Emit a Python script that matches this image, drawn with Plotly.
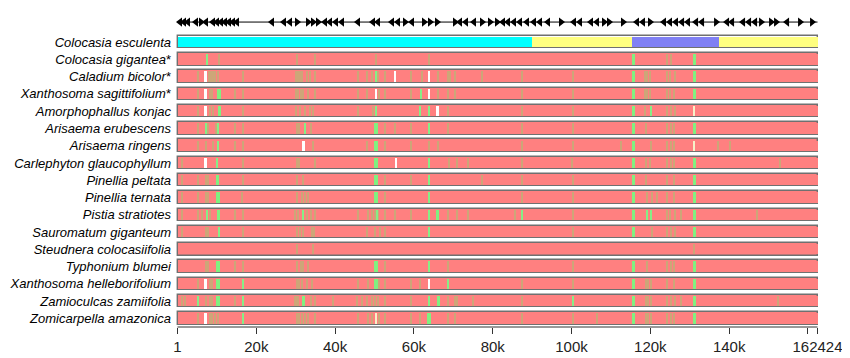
import plotly.graph_objects as go

# ---------------- data ----------------
genome_len = 162424
species = [
    "<i>Colocasia esculenta</i>",
    "<i>Colocasia gigantea</i>*",
    "<i>Caladium bicolor</i>*",
    "<i>Xanthosoma sagittifolium</i>*",
    "<i>Amorphophallus konjac</i>",
    "<i>Arisaema erubescens</i>",
    "<i>Arisaema ringens</i>",
    "<i>Carlephyton glaucophyllum</i>",
    "<i>Pinellia peltata</i>",
    "<i>Pinellia ternata</i>",
    "<i>Pistia stratiotes</i>",
    "<i>Sauromatum giganteum</i>",
    "<i>Steudnera colocasiifolia</i>",
    "<i>Typhonium blumei</i>",
    "<i>Xanthosoma helleborifolium</i>",
    "<i>Zamioculcas zamiifolia</i>",
    "<i>Zomicarpella amazonica</i>",
]

# reference regions (start, end, region)
ref_regions_start = [1, 89900, 115250, 137500]
ref_regions_end = [89900, 115250, 137500, 162424]
ref_regions_kind = ["LSC", "IR", "SSC", "IR"]

# gene annotation track (position bp, strand)
gene_pos = [635, 1650, 2665, 4695, 5964, 7233, 9010, 10025, 11040, 12055, 13070, 14085,
            15100, 23984, 27029, 28552, 30328, 33120, 34390, 35659, 37436, 38705, 40228,
            41750, 45811, 49618, 50887, 54440, 55963, 57740, 59516, 62562, 64085, 65861,
            70430, 71698, 73221, 75252, 77282, 79312, 81089, 82612, 83881, 85404, 86927,
            88703, 90480, 92003, 94033, 97333, 100632, 102155, 104947, 106470, 108247,
            109516, 113069, 116622, 118145, 119921, 123475, 124998, 126521, 128044,
            129566, 131597, 133120, 136673, 139465, 140734, 143526, 145048, 146571,
            148094, 150632, 151901, 154693, 157992, 161038]
gene_strand = ["-", "-", "-", "-", "+", "-", "-", "-", "-", "-", "-", "-",
               "-", "-", "-", "-", "+", "+", "+", "+", "-", "-", "-",
               "-", "-", "-", "-", "-", "-", "+", "-", "+", "+", "+",
               "+", "-", "-", "-", "+", "+", "+", "-", "-", "-", "-",
               "-", "-", "-", "-", "+", "-", "-", "-", "-", "+",
               "+", "+", "-", "-", "+", "-", "-", "-", "-",
               "-", "-", "-", "+", "-", "-", "-", "-", "-",
               "+", "+", "+", "-", "+", "+"]

# divergent regions per compared species: (position bp, kind)
# t = moderately conserved, g = less conserved, G = wide low-conservation, w = gap, c = near gap
diffs = {
    1: [(7400, "g"), (10617, "t"), (30244, "t"), (34897, "t"), (50379, "t"), (63831, "t"),
        (115690, "G"), (124150, "t"), (125165, "t"), (131172, "G")],
    2: [(5118, "t"), (7148, "w"), (8079, "t"), (8502, "t"), (8925, "t"), (9517, "t"), (10194, "t"),
        (16708, "t"), (29990, "t"), (30498, "t"), (31090, "t"), (31682, "t"), (32782, "t"),
        (33628, "t"), (34897, "t"), (45895, "t"), (48010, "t"), (49279, "t"), (50379, "g"),
        (50971, "t"), (52663, "t"), (55201, "w"), (59263, "t"), (61980, "t"), (63831, "w"),
        (66031, "t"), (68738, "t"), (69161, "t"), (70430, "t"), (77198, "t"), (87519, "t"),
        (100463, "t"), (115690, "G"), (118651, "t"), (119243, "t"), (119920, "t"),
        (124150, "t"), (124996, "t"), (126265, "t"), (131172, "G")],
    3: [(5118, "t"), (7148, "w"), (8248, "t"), (8840, "t"), (10500, "G"), (14593, "t"),
        (16708, "t"), (29990, "t"), (30667, "t"), (31260, "t"), (31900, "t"), (33036, "t"),
        (34897, "t"), (45895, "t"), (48010, "t"), (50379, "w"), (51140, "t"), (52663, "t"),
        (59263, "t"), (61700, "g"), (63831, "w"), (66031, "t"), (68738, "t"), (70430, "t"),
        (87519, "t"), (100463, "t"), (115690, "G"), (118651, "t"), (119243, "t"),
        (119920, "t"), (124150, "t"), (124996, "t"), (126011, "t"), (131172, "G")],
    4: [(5118, "t"), (7148, "w"), (8248, "t"), (9094, "t"), (10600, "G"), (16708, "t"),
        (29990, "t"), (31090, "t"), (32359, "t"), (33628, "t"), (34474, "t"), (45895, "t"),
        (49702, "t"), (50379, "g"), (61547, "g"), (63831, "g"), (66031, "w"), (68738, "t"),
        (87519, "t"), (100463, "t"), (115690, "G"), (118651, "t"), (120089, "g"),
        (124150, "t"), (125165, "t"), (126265, "t"), (131172, "c")],
    5: [(5118, "t"), (7148, "g"), (7825, "t"), (9686, "t"), (10194, "g"), (14593, "t"),
        (16708, "t"), (30244, "t"), (30836, "t"), (32359, "g"), (33882, "t"), (50379, "G"),
        (52663, "t"), (55201, "t"), (59263, "t"), (63831, "g"), (68738, "t"), (87519, "t"),
        (100463, "t"), (115690, "G"), (118905, "t"), (124150, "t"), (125165, "t"),
        (126011, "t"), (131172, "G")],
    6: [(5118, "t"), (7148, "t"), (9094, "t"), (10194, "g"), (14593, "t"), (16708, "t"),
        (31936, "w"), (34474, "t"), (48010, "t"), (50379, "G"), (52663, "t"), (59263, "t"),
        (63831, "t"), (66031, "t"), (87519, "t"), (100463, "t"), (112561, "t"),
        (115690, "G"), (120089, "t"), (124150, "t"), (125165, "t"), (126011, "t"),
        (131172, "c"), (137263, "t"), (140224, "t")],
    7: [(1226, "t"), (7148, "w"), (9940, "g"), (16708, "t"), (30244, "t"), (30836, "t"),
        (34897, "t"), (50379, "G"), (55455, "w"), (63831, "g"), (68907, "t"), (70853, "t"),
        (73814, "t"), (87519, "t"), (100040, "t"), (115690, "G"), (118905, "t"),
        (119920, "t"), (124150, "t"), (125165, "t"), (126011, "t"), (131172, "G"),
        (152914, "t")],
    8: [(1226, "t"), (5118, "t"), (7148, "t"), (7825, "t"), (10200, "G"), (16708, "t"),
        (30244, "t"), (31936, "t"), (50379, "G"), (52663, "t"), (59263, "t"), (63831, "g"),
        (77198, "t"), (87519, "t"), (100463, "t"), (115690, "G"), (118905, "t"),
        (124150, "t"), (126011, "t"), (131172, "G")],
    9: [(1226, "t"), (5118, "t"), (7148, "t"), (7825, "t"), (10250, "G"), (16285, "t"),
        (30244, "t"), (31513, "t"), (32359, "t"), (33205, "t"), (50379, "G"), (52663, "t"),
        (63831, "g"), (87519, "t"), (100463, "t"), (115690, "G"), (119074, "t"),
        (120343, "t"), (121612, "t"), (124150, "t"), (126011, "t"), (131172, "G")],
    10: [(1226, "t"), (5290, "t"), (6133, "t"), (7402, "g"), (8248, "t"), (10400, "G"),
         (14593, "t"), (16708, "t"), (29821, "t"), (30667, "t"), (31936, "g"), (32782, "t"),
         (33882, "t"), (34897, "t"), (45895, "t"), (48433, "t"), (49279, "t"), (50125, "t"),
         (50550, "g"), (50971, "t"), (52663, "t"), (55201, "t"), (59263, "t"), (63831, "g"),
         (66000, "G"), (68738, "t"), (70853, "t"), (73814, "t"), (85658, "t"), (87519, "g"),
         (100463, "t"), (115690, "G"), (119074, "g"), (120089, "g"), (124150, "t"),
         (124996, "t"), (126265, "t"), (127703, "t"), (131172, "G"), (146992, "t")],
    11: [(1226, "t"), (7148, "t"), (7825, "t"), (10617, "g"), (16708, "t"), (30244, "t"),
         (31090, "t"), (31936, "t"), (34051, "t"), (34728, "t"), (48010, "t"), (50125, "t"),
         (51394, "t"), (52663, "t"), (63831, "g"), (100463, "t"), (115690, "G"),
         (120343, "t"), (124150, "t"), (125165, "t"), (126265, "t"), (131172, "G")],
    12: [(30244, "t"), (34305, "t"), (131172, "t")],
    13: [(7148, "t"), (7825, "t"), (10250, "G"), (14593, "t"), (16708, "t"), (30244, "t"),
         (31344, "t"), (31936, "t"), (33205, "t"), (50379, "G"), (52663, "t"), (63831, "g"),
         (68738, "t"), (100463, "t"), (115690, "G"), (119074, "t"), (124150, "t"),
         (125165, "t"), (126011, "t"), (131172, "G")],
    14: [(5118, "t"), (7148, "w"), (8248, "t"), (8840, "t"), (10250, "G"), (16708, "g"),
         (30244, "t"), (30836, "t"), (31513, "t"), (32782, "t"), (34051, "t"), (45895, "t"),
         (48264, "t"), (50379, "G"), (51140, "t"), (52663, "t"), (59263, "t"), (61547, "t"),
         (63831, "w"), (68738, "g"), (87519, "t"), (100463, "t"), (115690, "G"),
         (118905, "t"), (119497, "t"), (120089, "t"), (124150, "t"), (126011, "t"),
         (131172, "G")],
    15: [(1226, "t"), (1900, "t"), (5118, "g"), (7148, "t"), (8248, "t"), (8840, "t"),
         (10300, "G"), (14593, "t"), (16539, "g"), (29821, "t"), (30244, "t"), (30667, "t"),
         (31936, "G"), (33882, "t"), (34897, "t"), (39550, "t"), (45472, "t"), (46741, "t"),
         (48010, "t"), (49279, "t"), (50125, "t"), (50971, "t"), (52663, "t"), (59263, "t"),
         (63831, "g"), (66200, "G"), (68738, "t"), (70430, "t"), (70853, "t"), (75083, "t"),
         (87519, "t"), (100463, "g"), (115690, "G"), (118905, "t"), (119497, "t"),
         (120089, "t"), (124150, "t"), (125165, "t"), (126265, "t"), (127703, "t"),
         (131172, "G"), (152491, "t")],
    16: [(5118, "t"), (7148, "w"), (8248, "t"), (8840, "t"), (9517, "t"), (10194, "t"),
         (16708, "g"), (30244, "t"), (30836, "t"), (31513, "t"), (32359, "t"), (33036, "t"),
         (34897, "t"), (45895, "t"), (48264, "t"), (49279, "t"), (50379, "c"), (51140, "t"),
         (52663, "t"), (59263, "t"), (61547, "t"), (63831, "G"), (68738, "t"), (70430, "t"),
         (87519, "t"), (100463, "t"), (106385, "t"), (115690, "G"), (118905, "t"),
         (119497, "t"), (120089, "t"), (124150, "t"), (125165, "t"), (126011, "t"),
         (131172, "G")],
}

x_tick_vals = [1, 20000, 40000, 60000, 80000, 100000, 120000, 140000, 160000, 162424]
x_tick_text = ["1", "20k", "40k", "60k", "80k", "100k", "120k", "140k", "", "162424"]

# ---------------- style ----------------
kind_len = {"t": 300, "g": 520, "G": 850, "w": 620, "c": 520}
kind_color = {"t": "#CDA678", "g": "#86EE86", "G": "#80F080", "w": "#FFFFFF", "c": "#F6F1C8"}
region_color = {"LSC": "#00FFFF", "IR": "#FFFF80", "SSC": "#8080F4"}
pink = "#FF8080"
border = "#707070"
gene_y = -1.16
inner_w = 0.6
outer_w = 0.72

fig = go.Figure()

n = len(species)
# outline / background bars
fig.add_trace(go.Bar(
    orientation="h", y=list(range(n)), base=[1] * n, x=[genome_len - 1] * n,
    width=outer_w, marker=dict(color=["#FFFFFF"] + [pink] * (n - 1),
                               line=dict(color=border, width=1.4)),
    hoverinfo="skip", showlegend=False))

# reference genome regions
for kind in ["LSC", "IR", "SSC"]:
    idx = [i for i, k in enumerate(ref_regions_kind) if k == kind]
    fig.add_trace(go.Bar(
        orientation="h", y=[0] * len(idx),
        base=[ref_regions_start[i] for i in idx],
        x=[ref_regions_end[i] - ref_regions_start[i] for i in idx],
        width=inner_w, marker=dict(color=region_color[kind], line=dict(width=0)),
        hoverinfo="skip", showlegend=False))

# inner pink fill for compared rows
fig.add_trace(go.Bar(
    orientation="h", y=list(range(1, n)), base=[1] * (n - 1), x=[genome_len - 1] * (n - 1),
    width=inner_w, marker=dict(color=pink, line=dict(width=0)),
    hoverinfo="skip", showlegend=False))

# divergent stripes
for kind in ["t", "g", "G", "w", "c"]:
    ys, bases, lens = [], [], []
    for row, items in diffs.items():
        for pos, k in items:
            if k == kind:
                ys.append(row)
                bases.append(pos - kind_len[k] / 2)
                lens.append(kind_len[k])
    fig.add_trace(go.Bar(
        orientation="h", y=ys, base=bases, x=lens, width=inner_w,
        marker=dict(color=kind_color[kind], line=dict(width=0)),
        hoverinfo="skip", showlegend=False))

# gene track
fig.add_trace(go.Scatter(
    x=[1, genome_len], y=[gene_y, gene_y], mode="lines",
    line=dict(color="black", width=1), hoverinfo="skip", showlegend=False))
fig.add_trace(go.Scatter(
    x=gene_pos, y=[gene_y] * len(gene_pos), mode="markers",
    marker=dict(symbol=["triangle-right" if s == "+" else "triangle-left" for s in gene_strand],
                size=8, color="black", line=dict(width=0)),
    hoverinfo="skip", showlegend=False))

# x axis baseline
fig.add_shape(type="line", xref="x", yref="paper", x0=1, x1=genome_len, y0=0, y1=0,
              line=dict(color="#333333", width=1))

# the page body adds an 8px offset, so the figure is 8px smaller than the window
fig.update_layout(
    width=842, height=350,
    margin=dict(l=167, r=30, t=3, b=31, pad=0),
    paper_bgcolor="white", plot_bgcolor="white",
    barmode="overlay", bargap=0,
    font=dict(family="Liberation Sans, Arial, sans-serif", color="black"),
    xaxis=dict(range=[-633, 163057], tickvals=x_tick_vals, ticktext=x_tick_text,
               ticks="outside", ticklen=6, tickcolor="#333333", tickwidth=1,
               showline=False, showgrid=False, zeroline=False, automargin=False,
               tickfont=dict(size=15, color="#222222")),
    yaxis=dict(range=[16.5, -1.8], tickvals=list(range(n)), ticktext=species,
               ticks="", showline=False, showgrid=False, zeroline=False,
               automargin=False, ticklabelstandoff=3,
               tickfont=dict(size=13, color="black")),
)

fig.write_html("out.html")
